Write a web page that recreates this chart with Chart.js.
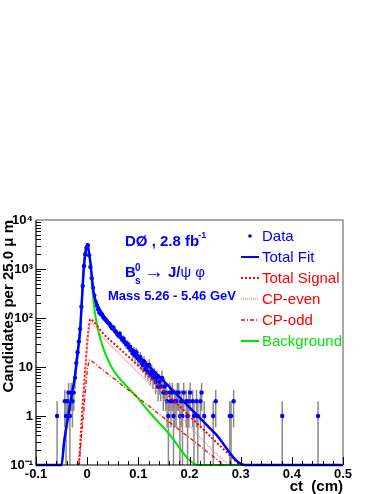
<!DOCTYPE html>
<html>
<head>
<meta charset="utf-8">
<script src="https://cdn.jsdelivr.net/npm/chart.js@4.4.1/dist/chart.umd.min.js"></script>
<style>
  html, body { margin: 0; padding: 0; background: #fff; }
</style>
</head>
<body>
<canvas id="ctChart" width="382" height="494"></canvas>
<script>
// histogram binning (25 um bins), counts
const binWidth = 0.0025;
const firstBinCenter = -0.05875;
const counts = [
  1, 0, 0, 0, 0, 0, 2, 1, 2, 3, 1, 3, 2, 3, 6, 12, 20, 33, 60, 170, 450, 1150, 2000, 2700,
  3050, 1900, 1100, 650, 420, 290, 215, 180, 150, 130, 120, 118, 105, 98, 92, 85, 80, 76, 68, 62,
  64, 55, 52, 47, 44, 48, 40, 36, 38, 32, 29, 30, 25, 26, 22, 19, 21, 17, 20, 15,
  14, 16, 12, 11, 13, 9, 10, 8, 11, 7, 8, 6, 7, 5, 6, 4, 5, 4, 6, 3,
  4, 3, 2, 1, 3, 2, 3, 1, 2, 2, 3, 3, 1, 2, 1, 3, 0, 2, 1, 2,
  3, 0, 2, 1, 0, 2, 1, 0, 2, 3, 0, 1, 0, 0, 0, 0, 0, 0, 1, 0,
  2, 0, 0, 0, 0, 0, 0, 0, 0, 0, 0, 1, 1, 0, 2
];
const outlierCt = [0.38125, 0.45125];
const outlierN = [1, 1];

// fit curves (ct in cm, candidates)
const fitCt  = [-0.1, -0.05, -0.045, -0.037, -0.03, -0.024, -0.019, -0.0137, -0.0102, -0.0063, -0.003, 0, 0.003, 0.0065, 0.011, 0.0143, 0.021, 0.03, 0.045, 0.06, 0.1, 0.15, 0.2, 0.25, 0.308, 0.5];
const fitVal = [0.1, 0.1, 0.3, 1, 2.8, 6.3, 18, 57, 240, 1150, 2300, 3200, 2400, 1300, 450, 270, 175, 120, 75, 46, 17, 5.1, 1.5, 0.44, 0.1, 0.1];

const sigCt  = [-0.016, -0.012, -0.0076, -0.0029, 0.0025, 0.0065, 0.012, 0.02, 0.03, 0.063, 0.095, 0.141, 0.2, 0.25, 0.298];
const sigVal = [0.1, 0.5, 2.5, 12, 57, 95, 85, 68, 50, 24, 11.8, 4, 1.0, 0.31, 0.1];

const evenCt  = [-0.016, -0.012, -0.0076, -0.0029, 0.0025, 0.0065, 0.012, 0.02, 0.03, 0.063, 0.095, 0.141, 0.2, 0.25, 0.278];
const evenVal = [0.1, 0.42, 2.1, 10, 48, 80, 72, 57, 41, 18.5, 8.6, 2.8, 0.62, 0.18, 0.1];

const oddCt  = [-0.016, -0.011, -0.006, -0.002, 0.002, 0.0045, 0.01, 0.025, 0.0367, 0.0758, 0.09, 0.155, 0.2, 0.267];
const oddVal = [0.1, 0.4, 1.5, 5, 11, 14, 13, 9.7, 7.8, 3.7, 2.85, 0.83, 0.36, 0.1];

const bkgCt  = [-0.1, -0.05, -0.045, -0.037, -0.03, -0.024, -0.019, -0.0137, -0.0102, -0.0063, -0.003, 0, 0.003, 0.0065, 0.0098, 0.013, 0.018, 0.0237, 0.03, 0.037, 0.05, 0.069, 0.095, 0.123, 0.155, 0.218, 0.5];
const bkgVal = [0.1, 0.1, 0.3, 1, 2.8, 6.3, 18, 57, 238, 1140, 2280, 3100, 2300, 1250, 420, 190, 85, 45, 27, 17, 9, 5, 2.6, 1.15, 0.5, 0.1, 0.1];

const yTicks = [0.1, 1, 10, 100, 1000, 10000];
const yTickLabels = ['10\u207B\u00B9', '1', '10', '10\u00B2', '10\u00B3', '10\u2074'];

const BLUE = '#0000ff', RED = '#ff0000', PINK = '#ff7070', GREEN = '#00e600';
const FONT = '"Liberation Sans", Arial, Helvetica, sans-serif';

const pairs = (xs, ys) => xs.map((v, i) => ({ x: v, y: ys[i] }));

const dataPts = [];
counts.forEach((n, i) => { if (n > 0) dataPts.push({ x: firstBinCenter + i * binWidth, y: n }); });
outlierCt.forEach((c, i) => dataPts.push({ x: c, y: outlierN[i] }));

const legendItems = [
  { label: 'Data', color: BLUE, kind: 'dot' },
  { label: 'Total Fit', color: BLUE, kind: 'line', width: 2, dash: [] },
  { label: 'Total Signal', color: RED, kind: 'line', width: 2, dash: [2, 2] },
  { label: 'CP-even', color: RED, sym: PINK, kind: 'line', width: 1.2, dash: [1, 1] },
  { label: 'CP-odd', color: RED, kind: 'line', width: 1.3, dash: [4, 2, 1, 2] },
  { label: 'Background', color: GREEN, kind: 'line', width: 2, dash: [] }
];

const decor = {
  id: 'decor',
  beforeDatasetsDraw(chart) {
    const { ctx, scales: { x, y }, chartArea: a } = chart;
    ctx.save();
    ctx.beginPath();
    ctx.rect(a.left, a.top, a.right - a.left, a.bottom - a.top);
    ctx.clip();
    ctx.strokeStyle = '#8a8a8a';
    ctx.lineWidth = 1.5;
    dataPts.forEach(p => {
      const e = Math.sqrt(p.y);
      const px = x.getPixelForValue(p.x);
      const lo = p.y - e > 0.1 ? y.getPixelForValue(p.y - e) : a.bottom;
      const hi = y.getPixelForValue(p.y + e);
      ctx.beginPath();
      ctx.moveTo(px, lo);
      ctx.lineTo(px, hi);
      ctx.stroke();
    });
    ctx.restore();
  },
  afterDraw(chart) {
    const { ctx, scales: { x, y }, chartArea: a } = chart;
    ctx.save();
    // frame
    ctx.lineWidth = 1.5;
    ctx.strokeStyle = '#8c8c8c';
    ctx.beginPath();
    ctx.moveTo(a.left, a.top); ctx.lineTo(a.right, a.top); ctx.lineTo(a.right, a.bottom);
    ctx.stroke();
    ctx.strokeStyle = '#000';
    ctx.lineWidth = 1.2;
    ctx.beginPath();
    ctx.moveTo(a.left, a.top); ctx.lineTo(a.left, a.bottom); ctx.lineTo(a.right, a.bottom);
    ctx.stroke();
    // inward ticks
    ctx.lineWidth = 1;
    for (let d = -1; d < 4; d++) {
      for (let m = 1; m < 10; m++) {
        const py = Math.round(y.getPixelForValue(m * Math.pow(10, d))) + 0.5;
        const len = m === 1 ? 10 : 5;
        ctx.beginPath(); ctx.moveTo(a.left, py); ctx.lineTo(a.left + len, py); ctx.stroke();
      }
    }
    for (let i = 0; i <= 30; i++) {
      const px = Math.round(x.getPixelForValue(-0.1 + i * 0.02)) + 0.5;
      const len = i % 5 === 0 ? 8 : 4;
      ctx.beginPath(); ctx.moveTo(px, a.bottom); ctx.lineTo(px, a.bottom - len); ctx.stroke();
    }
    // legend
    ctx.font = '15px ' + FONT;
    ctx.textBaseline = 'middle';
    legendItems.forEach((it, i) => {
      const cy = 236 + i * 21;
      if (it.kind === 'dot') {
        ctx.fillStyle = it.color;
        ctx.beginPath(); ctx.arc(250, cy, 1.8, 0, Math.PI * 2); ctx.fill();
      } else {
        ctx.strokeStyle = it.sym || it.color;
        ctx.lineWidth = it.width;
        ctx.setLineDash(it.dash);
        ctx.beginPath(); ctx.moveTo(241, cy); ctx.lineTo(259, cy); ctx.stroke();
        ctx.setLineDash([]);
      }
      ctx.fillStyle = it.color;
      ctx.textAlign = 'left';
      ctx.fillText(it.label, 262, cy + 1);
    });
    // annotations
    ctx.fillStyle = BLUE;
    ctx.textBaseline = 'alphabetic';
    ctx.font = 'bold 15px ' + FONT;
    const t1 = 'D\u00D8 , 2.8 fb';
    ctx.fillText(t1, 125, 246);
    const w = ctx.measureText(t1).width;
    ctx.font = 'bold 9px ' + FONT;
    ctx.fillText('-1', 125 + w - 1, 238);

    ctx.font = 'bold 15px ' + FONT;
    ctx.fillText('B', 125, 277);
    ctx.font = 'bold 10px ' + FONT;
    ctx.fillText('0', 135, 271);
    ctx.fillText('s', 135, 284);
    ctx.font = '20px ' + FONT;
    ctx.fillText('\u2192', 144, 278);
    ctx.font = 'bold 15px ' + FONT;
    ctx.fillText('J/', 168, 277);
    const wj = ctx.measureText('J/').width;
    ctx.font = '15px ' + FONT;
    ctx.fillText('\u03C8 \u03C6', 168 + wj, 277);

    ctx.font = 'bold 13px ' + FONT;
    ctx.fillText('Mass 5.26 - 5.46 GeV', 108, 300);
    ctx.restore();
  }
};

const ctx = document.getElementById('ctChart').getContext('2d');
const ctChart = new Chart(ctx, {
  data: {
    datasets: [
      { type: 'line', label: 'Total Fit', data: pairs(fitCt, fitVal), borderColor: BLUE, borderWidth: 2.5,
        pointRadius: 0, cubicInterpolationMode: 'monotone', clip: false },
      { type: 'line', label: 'CP-odd', data: pairs(oddCt, oddVal), borderColor: RED, borderWidth: 1.3,
        borderDash: [4, 2, 1, 2], pointRadius: 0, cubicInterpolationMode: 'monotone', clip: false },
      { type: 'line', label: 'CP-even', data: pairs(evenCt, evenVal), borderColor: PINK, borderWidth: 1.2,
        borderDash: [1, 1], pointRadius: 0, cubicInterpolationMode: 'monotone', clip: false },
      { type: 'line', label: 'Total Signal', data: pairs(sigCt, sigVal), borderColor: RED, borderWidth: 2,
        borderDash: [2, 2], pointRadius: 0, cubicInterpolationMode: 'monotone', clip: false },
      { type: 'line', label: 'Background', data: pairs(bkgCt, bkgVal), borderColor: GREEN, borderWidth: 2,
        pointRadius: 0, cubicInterpolationMode: 'monotone', clip: false },
      { type: 'scatter', label: 'Data', data: dataPts, backgroundColor: BLUE, borderWidth: 0,
        pointRadius: 2.2 }
    ]
  },
  options: {
    responsive: false,
    animation: false,
    devicePixelRatio: 1,
    layout: { padding: { top: 220, right: 39, left: 0, bottom: 0 } },
    plugins: { legend: { display: false }, tooltip: { enabled: false } },
    scales: {
      x: {
        type: 'linear', min: -0.1, max: 0.5,
        grid: { display: false, drawTicks: false }, border: { display: false },
        ticks: {
          stepSize: 0.1, padding: 2, color: '#000', font: { family: FONT, size: 13, weight: 'bold' },
          callback: v => Math.abs(v) < 1e-9 ? '0' : String(+v.toFixed(1))
        },
        title: { display: true, text: 'ct  (cm)', align: 'end', color: '#000', padding: { top: 0, bottom: -2 },
                 font: { family: FONT, size: 15, weight: 'bold' } },
        afterFit: s => { s.height = 29; }
      },
      y: {
        type: 'logarithmic', min: 0.1, max: 10000,
        grid: { display: false, drawTicks: false }, border: { display: false },
        afterBuildTicks: s => { s.ticks = yTicks.map(v => ({ value: v })); },
        ticks: {
          padding: 3, color: '#000', font: { family: FONT, size: 13, weight: 'bold' },
          callback: v => { const i = yTicks.indexOf(v); return i >= 0 ? yTickLabels[i] : ''; }
        },
        title: { display: true, text: 'Candidates per 25.0 \u03BC m', align: 'end', color: '#000', padding: 0,
                 font: { family: FONT, size: 15, weight: 'bold' } },
        afterFit: s => { s.width = 36; }
      }
    }
  },
  plugins: [decor]
});
</script>
</body>
</html>
